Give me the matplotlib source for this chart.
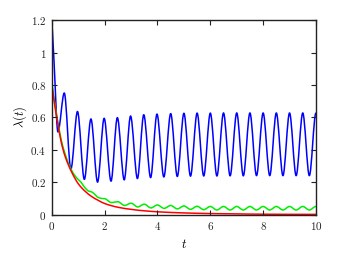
import numpy as np
import matplotlib
matplotlib.use("Agg")
import matplotlib.pyplot as plt
from matplotlib.path import Path
from matplotlib.patches import PathPatch

plt.rcParams['mathtext.fontset'] = 'cm'
plt.rcParams['font.family'] = 'serif'
plt.rcParams['font.serif'] = ['DejaVu Serif']

# blue curve: start, then alternating troughs / peaks
blue_t = [0.0, 0.08, 0.23, 0.47, 0.72, 0.97, 1.23, 1.48, 1.73, 1.98, 2.24, 2.48,
          2.74, 2.98, 3.24, 3.48, 3.74, 3.98, 4.24, 4.5, 4.75, 5.0, 5.25, 5.5,
          5.75, 6.0, 6.25, 6.5, 6.75, 7.0, 7.25, 7.5, 7.75, 8.0, 8.25, 8.5,
          8.75, 9.0, 9.25, 9.5, 9.75, 10.0]
blue_y = [1.2, 0.95, 0.51, 0.75, 0.28, 0.636, 0.217, 0.59, 0.2, 0.594, 0.206, 0.598,
          0.214, 0.608, 0.222, 0.616, 0.228, 0.62, 0.232, 0.623, 0.235, 0.625, 0.237, 0.626,
          0.238, 0.626, 0.238, 0.627, 0.239, 0.627, 0.239, 0.627, 0.24, 0.627, 0.24, 0.627,
          0.24, 0.627, 0.24, 0.627, 0.24, 0.627]

# green curve
green_t = [0.0, 0.1, 0.2, 0.3, 0.4, 0.5, 0.6, 0.75, 0.9, 1.0, 1.1, 1.25, 1.4, 1.5,
           1.6, 1.75, 1.9, 2.0, 2.25, 2.5, 2.75, 3.0, 3.25, 3.5, 3.75, 4.0, 4.25,
           4.5, 4.75, 5.0, 5.25, 5.5, 5.75, 6.0, 6.25, 6.5, 6.75, 7.0, 7.25, 7.5,
           7.75, 8.0, 8.25, 8.5, 8.75, 9.0, 9.25, 9.5, 9.75, 10.0]
green_y = [0.81, 0.695, 0.595, 0.505, 0.43, 0.375, 0.328, 0.272, 0.234, 0.216, 0.2, 0.166, 0.144, 0.14,
           0.128, 0.106, 0.099, 0.098, 0.074, 0.079, 0.056, 0.07, 0.047, 0.064, 0.041, 0.059, 0.038,
           0.056, 0.035, 0.053, 0.032, 0.051, 0.03, 0.05, 0.028, 0.05, 0.028, 0.05, 0.028, 0.05,
           0.028, 0.05, 0.028, 0.05, 0.028, 0.05, 0.028, 0.05, 0.028, 0.05]

# red curve
red_t = [0.0, 0.1, 0.2, 0.35, 0.5, 0.75, 1.0, 1.25, 1.5, 1.75, 2.0, 2.5, 3.0, 3.5,
         4.0, 5.0, 6.0, 7.0, 8.0, 10.0]
red_y = [0.8, 0.685, 0.585, 0.45, 0.36, 0.262, 0.19, 0.145, 0.112, 0.088, 0.068, 0.045, 0.032, 0.023,
         0.017, 0.01, 0.006, 0.004, 0.002, 0.001]

x_ticks = [0, 2, 4, 6, 8, 10]
x_labels = ['$0$', '$2$', '$4$', '$6$', '$8$', '$10$']
y_ticks = [0, 0.2, 0.4, 0.6, 0.8, 1.0, 1.2]
y_labels = ['$0$', '$0.2$', '$0.4$', '$0.6$', '$0.8$', '$1$', '$1.2$']


def smooth_path(t, y):
    # monotone cubic through the points, drawn as bezier segments
    t = np.asarray(t, float)
    y = np.asarray(y, float)
    h = np.diff(t)
    d = np.diff(y) / h
    m = np.zeros_like(y)
    for k in range(1, len(t) - 1):
        if d[k - 1] * d[k] > 0:
            w1 = 2 * h[k] + h[k - 1]
            w2 = h[k] + 2 * h[k - 1]
            m[k] = (w1 + w2) / (w1 / d[k - 1] + w2 / d[k])
    m[0] = d[0]
    verts = [(t[0], y[0])]
    codes = [Path.MOVETO]
    for k in range(len(h)):
        verts += [(t[k] + h[k] / 3, y[k] + m[k] * h[k] / 3),
                  (t[k + 1] - h[k] / 3, y[k + 1] - m[k + 1] * h[k] / 3),
                  (t[k + 1], y[k + 1])]
        codes += [Path.CURVE4] * 3
    return Path(verts, codes)


fig = plt.figure(figsize=(3.39, 2.61), dpi=100)
ax = fig.add_axes([0.153, 0.178, 0.779, 0.745])

for tt, yy, col in [(blue_t, blue_y, '#0000ff'), (green_t, green_y, '#00ee00'), (red_t, red_y, '#ff0000')]:
    ax.add_patch(PathPatch(smooth_path(tt, yy), fill=False, edgecolor=col, lw=1.1,
                           joinstyle='round', capstyle='butt'))

ax.set_xlim(0, 10)
ax.set_ylim(0, 1.2)
ax.set_xticks(x_ticks)
ax.set_xticklabels(x_labels)
ax.set_yticks(y_ticks)
ax.set_yticklabels(y_labels)
ax.tick_params(direction='in', top=True, right=True, length=3.5, width=0.8,
               labelsize=8, pad=4, colors='#222222')
for s in ax.spines.values():
    s.set_linewidth(1.0)
    s.set_color('#222222')

ax.set_xlabel('$t$', fontsize=9, labelpad=4)
ax.set_ylabel(r'$\lambda(t)$', fontsize=9, labelpad=1)

fig.savefig('out.png', dpi=100)
